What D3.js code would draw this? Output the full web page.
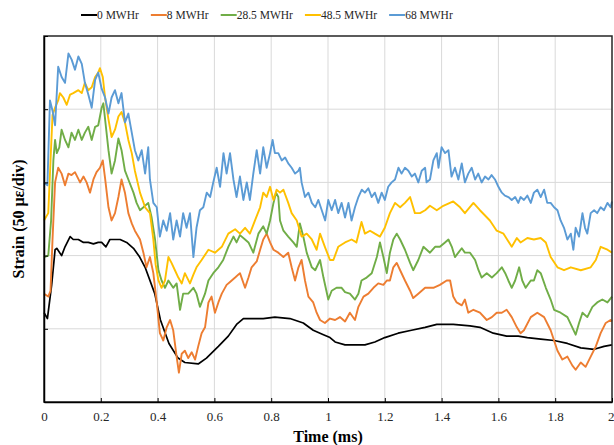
<!DOCTYPE html>
<html>
<head>
<meta charset="utf-8">
<script src="https://cdnjs.cloudflare.com/ajax/libs/d3/7.8.5/d3.min.js"></script>
<style>
  body { margin: 0; background: #fff; }
  svg { display: block; font-family: "Liberation Serif", "Times New Roman", serif; }
</style>
</head>
<body>
<svg id="chart" width="614" height="445"></svg>
<script>
// legend labels + colours, one per series
const seriesNames = ['0 MWHr', '8 MWHr', '28.5 MWHr', '48.5 MWHr', '68 MWHr'];
const seriesColors = ['#000000', '#ED7D31', '#70AD47', '#FFC000', '#5B9BD5'];

// axis ticks: time in ms, strain in microstrain (50 per division, no labels)
const timeTicks = [0, 0.2, 0.4, 0.6, 0.8, 1, 1.2, 1.4, 1.6, 1.8, 2];
const strainTicks = [0, 50, 100, 150, 200, 250];

// [time (ms), strain (µε)]
const mwhr0 = [[0,61],[0.012,57],[0.027,80],[0.039,104],[0.045,105],[0.062,100],[0.074,106],[0.092,113],[0.103,111],[0.121,111],[0.139,109],[0.156,109],[0.174,108],[0.191,109],[0.203,109],[0.218,106],[0.232,111],[0.25,111],[0.268,111],[0.291,109],[0.315,105],[0.337,99],[0.356,92],[0.39,74],[0.41,56],[0.44,40],[0.472,30],[0.496,27],[0.543,26],[0.572,30],[0.614,38],[0.649,45],[0.678,53],[0.702,57],[0.772,57],[0.813,58],[0.866,57],[0.913,54],[0.948,49],[0.984,46],[1.007,44],[1.025,41],[1.06,39],[1.13,39],[1.165,41],[1.2,44],[1.247,47],[1.294,49],[1.342,51],[1.383,53],[1.441,53],[1.5,52],[1.535,51],[1.582,47],[1.629,45],[1.67,45],[1.702,44],[1.749,43],[1.796,42],[1.843,40],[1.89,37],[1.937,36],[1.972,38],[2,39]];

const mwhr8 = [[0,74],[0.015,72],[0.023,76],[0.03,111],[0.039,150],[0.05,160],[0.062,156],[0.074,148],[0.086,156],[0.097,155],[0.109,157],[0.127,150],[0.139,154],[0.15,150],[0.162,143],[0.174,152],[0.185,157],[0.197,160],[0.207,165],[0.215,153],[0.227,133],[0.238,124],[0.25,129],[0.262,140],[0.273,152],[0.285,143],[0.297,129],[0.309,122],[0.32,117],[0.338,111],[0.35,102],[0.361,92],[0.373,99],[0.385,88],[0.397,68],[0.408,47],[0.42,42],[0.432,51],[0.444,56],[0.455,49],[0.467,31],[0.475,20],[0.485,33],[0.496,35],[0.508,30],[0.52,34],[0.532,29],[0.543,38],[0.555,47],[0.567,51],[0.579,68],[0.59,72],[0.602,61],[0.614,68],[0.626,74],[0.643,80],[0.655,82],[0.673,85],[0.69,88],[0.708,78],[0.72,85],[0.731,92],[0.749,96],[0.761,104],[0.772,111],[0.784,115],[0.796,109],[0.808,104],[0.825,102],[0.843,99],[0.86,102],[0.872,92],[0.884,83],[0.896,92],[0.907,97],[0.919,83],[0.931,72],[0.948,68],[0.96,61],[0.972,56],[0.989,54],[1.007,57],[1.025,56],[1.042,58],[1.06,55],[1.077,61],[1.095,56],[1.107,65],[1.125,72],[1.142,74],[1.16,78],[1.177,81],[1.195,80],[1.207,83],[1.218,83],[1.23,92],[1.242,95],[1.254,90],[1.271,83],[1.289,76],[1.3,71],[1.318,74],[1.342,78],[1.371,78],[1.394,80],[1.418,83],[1.43,83],[1.441,72],[1.453,68],[1.471,66],[1.482,70],[1.494,61],[1.512,63],[1.535,61],[1.559,56],[1.577,58],[1.594,61],[1.612,61],[1.629,63],[1.647,58],[1.665,51],[1.678,47],[1.69,49],[1.714,58],[1.737,61],[1.761,58],[1.784,49],[1.808,35],[1.825,29],[1.843,31],[1.86,25],[1.872,22],[1.89,27],[1.907,24],[1.925,31],[1.943,38],[1.96,47],[1.978,54],[1.995,56],[2,55]];

const mwhr28 = [[0,99],[0.015,100],[0.025,124],[0.033,165],[0.039,179],[0.045,170],[0.054,174],[0.062,186],[0.074,179],[0.086,174],[0.097,184],[0.109,179],[0.121,186],[0.133,179],[0.144,184],[0.156,188],[0.168,179],[0.18,188],[0.191,189],[0.203,201],[0.209,204],[0.218,188],[0.227,172],[0.238,156],[0.25,165],[0.262,180],[0.273,172],[0.285,158],[0.297,152],[0.315,143],[0.326,136],[0.338,131],[0.35,133],[0.367,136],[0.379,126],[0.391,111],[0.403,90],[0.414,83],[0.426,78],[0.438,83],[0.455,78],[0.467,81],[0.479,63],[0.49,74],[0.508,74],[0.526,78],[0.537,74],[0.549,65],[0.567,74],[0.579,83],[0.596,88],[0.614,92],[0.631,97],[0.649,106],[0.667,113],[0.678,109],[0.69,114],[0.708,111],[0.72,109],[0.737,102],[0.755,115],[0.772,120],[0.784,115],[0.796,124],[0.808,136],[0.817,143],[0.825,140],[0.831,124],[0.843,117],[0.86,113],[0.878,109],[0.89,106],[0.901,122],[0.913,113],[0.925,102],[0.943,92],[0.955,90],[0.972,97],[0.984,85],[1.001,70],[1.013,76],[1.03,78],[1.048,78],[1.06,75],[1.077,74],[1.095,70],[1.107,74],[1.118,83],[1.136,85],[1.154,88],[1.172,99],[1.183,109],[1.195,99],[1.207,88],[1.218,102],[1.23,111],[1.242,115],[1.254,111],[1.271,104],[1.289,95],[1.3,90],[1.318,97],[1.336,106],[1.359,102],[1.377,106],[1.394,106],[1.412,109],[1.424,111],[1.436,106],[1.447,99],[1.459,102],[1.471,105],[1.482,102],[1.5,102],[1.518,97],[1.53,90],[1.541,85],[1.559,88],[1.577,85],[1.594,88],[1.612,92],[1.624,88],[1.635,83],[1.647,78],[1.659,83],[1.673,92],[1.684,83],[1.696,78],[1.714,83],[1.725,83],[1.737,90],[1.749,88],[1.767,78],[1.784,70],[1.796,63],[1.819,61],[1.843,58],[1.86,51],[1.872,46],[1.884,54],[1.896,61],[1.913,58],[1.931,65],[1.948,68],[1.966,70],[1.984,68],[2,72]];

const mwhr48 = [[0,124],[0.015,129],[0.023,165],[0.03,196],[0.039,201],[0.05,206],[0.056,211],[0.068,208],[0.08,203],[0.092,210],[0.103,211],[0.121,213],[0.133,211],[0.144,218],[0.156,213],[0.168,215],[0.18,222],[0.191,225],[0.197,228],[0.207,222],[0.215,208],[0.227,193],[0.238,181],[0.25,186],[0.262,195],[0.273,198],[0.285,191],[0.297,179],[0.309,170],[0.32,158],[0.338,143],[0.356,133],[0.373,129],[0.385,111],[0.393,94],[0.403,83],[0.414,78],[0.426,83],[0.438,99],[0.449,95],[0.461,90],[0.473,85],[0.485,81],[0.496,88],[0.514,81],[0.526,87],[0.537,92],[0.555,97],[0.579,104],[0.602,102],[0.626,106],[0.649,115],[0.673,118],[0.69,115],[0.708,119],[0.725,115],[0.743,124],[0.761,133],[0.772,143],[0.784,140],[0.796,147],[0.808,138],[0.819,145],[0.831,143],[0.843,145],[0.86,136],[0.872,129],[0.89,124],[0.907,113],[0.925,115],[0.943,111],[0.96,104],[0.972,115],[0.989,106],[1.007,97],[1.019,97],[1.036,106],[1.06,109],[1.083,111],[1.1,109],[1.118,123],[1.13,115],[1.148,117],[1.165,115],[1.183,113],[1.2,119],[1.218,129],[1.236,136],[1.254,133],[1.271,136],[1.289,140],[1.306,129],[1.324,129],[1.342,131],[1.359,134],[1.383,131],[1.406,134],[1.441,137],[1.465,133],[1.482,129],[1.512,136],[1.535,131],[1.57,124],[1.594,117],[1.618,115],[1.647,106],[1.665,112],[1.678,109],[1.702,112],[1.725,111],[1.749,112],[1.767,109],[1.784,99],[1.808,92],[1.831,90],[1.855,92],[1.89,90],[1.925,92],[1.943,97],[1.96,106],[1.984,104],[2,102]];

const mwhr68 = [[0,150],[0.012,148],[0.021,206],[0.03,199],[0.039,189],[0.05,229],[0.062,222],[0.074,218],[0.086,238],[0.097,234],[0.109,227],[0.121,236],[0.133,231],[0.144,218],[0.156,210],[0.168,201],[0.18,220],[0.191,225],[0.203,214],[0.215,208],[0.227,197],[0.238,208],[0.25,213],[0.262,204],[0.273,211],[0.285,191],[0.297,197],[0.309,184],[0.32,172],[0.332,165],[0.344,172],[0.356,156],[0.367,174],[0.373,152],[0.385,136],[0.397,133],[0.408,113],[0.42,124],[0.432,117],[0.444,129],[0.455,111],[0.467,124],[0.479,113],[0.49,129],[0.502,119],[0.514,129],[0.526,99],[0.537,119],[0.549,131],[0.561,133],[0.573,143],[0.585,140],[0.596,150],[0.608,160],[0.62,147],[0.632,170],[0.643,156],[0.655,170],[0.667,152],[0.678,140],[0.69,154],[0.702,138],[0.714,150],[0.725,138],[0.737,156],[0.749,172],[0.761,156],[0.772,174],[0.784,160],[0.796,170],[0.805,179],[0.813,170],[0.825,170],[0.837,165],[0.849,167],[0.86,163],[0.872,160],[0.884,156],[0.896,158],[0.901,160],[0.907,150],[0.919,140],[0.931,143],[0.943,136],[0.955,133],[0.966,138],[0.978,131],[0.99,124],[1.001,138],[1.013,131],[1.025,138],[1.036,129],[1.048,136],[1.06,126],[1.072,136],[1.083,124],[1.095,133],[1.107,140],[1.119,145],[1.13,143],[1.142,146],[1.154,140],[1.165,143],[1.177,136],[1.189,143],[1.2,138],[1.212,147],[1.224,150],[1.236,152],[1.248,160],[1.259,156],[1.271,160],[1.283,158],[1.295,154],[1.306,156],[1.318,150],[1.33,158],[1.342,160],[1.347,150],[1.359,152],[1.371,165],[1.383,170],[1.389,160],[1.4,174],[1.412,170],[1.424,172],[1.435,154],[1.447,160],[1.459,152],[1.471,163],[1.482,150],[1.494,156],[1.506,160],[1.518,152],[1.529,156],[1.541,150],[1.553,154],[1.565,152],[1.576,155],[1.588,152],[1.6,147],[1.612,143],[1.623,141],[1.635,140],[1.647,138],[1.659,140],[1.67,136],[1.678,140],[1.69,138],[1.702,141],[1.714,136],[1.725,143],[1.737,145],[1.749,140],[1.761,145],[1.772,136],[1.784,136],[1.796,133],[1.808,131],[1.819,124],[1.831,119],[1.843,111],[1.855,115],[1.864,104],[1.872,119],[1.884,113],[1.896,129],[1.905,119],[1.913,115],[1.925,129],[1.937,131],[1.948,129],[1.96,133],[1.972,131],[1.984,136],[1.995,133],[2,137]];

const allSeries = [mwhr0, mwhr8, mwhr28, mwhr48, mwhr68];

const svg = d3.select('#chart');
const margin = {top: 36, right: 2, bottom: 43, left: 44};
const width = 614, height = 445;

const x = d3.scaleLinear().domain([0, 2]).range([margin.left, width - margin.right]);
const y = d3.scaleLinear().domain([0, 250]).range([height - margin.bottom, margin.top]);

svg.append('rect').attr('width', width).attr('height', height).attr('fill', '#fff');

// gridlines
svg.append('g')
  .selectAll('line')
  .data(timeTicks.slice(1, -1))
  .enter()
  .append('line')
  .attr('x1', d => x(d)).attr('x2', d => x(d))
  .attr('y1', y(250)).attr('y2', y(0))
  .attr('stroke', '#d9d9d9').attr('stroke-width', 1)
;
svg.append('g')
  .selectAll('line')
  .data(strainTicks.slice(1, -1))
  .enter()
  .append('line')
  .attr('x1', x(0)).attr('x2', x(2))
  .attr('y1', d => y(d)).attr('y2', d => y(d))
  .attr('stroke', '#d9d9d9').attr('stroke-width', 1)
;

// data lines
const line = d3.line().x(d => x(d[0])).y(d => y(d[1]));

svg.append('g')
  .selectAll('path')
  .data(allSeries)
  .enter()
  .append('path')
  .attr('d', line)
  .attr('fill', 'none')
  .attr('stroke', (d, i) => seriesColors[i])
  .attr('stroke-width', (d, i) => i === 0 ? 1.7 : 1.9)
  .attr('stroke-linejoin', 'round')
;

// plot frame
svg.append('rect')
  .attr('x', x(0)).attr('y', y(250))
  .attr('width', x(2) - x(0)).attr('height', y(0) - y(250))
  .attr('fill', 'none').attr('stroke', '#262626').attr('stroke-width', 1.5)
;

// axes
const xAxis = svg.append('g')
  .attr('transform', `translate(0,${y(0)})`)
  .call(d3.axisBottom(x).tickValues(timeTicks).tickFormat(d3.format('~g')).tickSizeInner(-4).tickSizeOuter(0).tickPadding(10))
;
xAxis.select('.domain').attr('stroke', '#000').attr('stroke-width', 1.5);
xAxis.selectAll('.tick line').attr('stroke', '#000');
xAxis.selectAll('text').attr('font-size', '13px').attr('font-family', '"Liberation Serif", serif').attr('fill', '#262626');
// last label sits against the right edge
xAxis.selectAll('.tick text').filter(d => d === 2).attr('text-anchor', 'end').attr('dx', 2);

const yAxis = svg.append('g')
  .attr('transform', `translate(${x(0)},0)`)
  .call(d3.axisLeft(y).tickValues(strainTicks).tickFormat('').tickSizeInner(-4).tickSizeOuter(0))
;
yAxis.select('.domain').attr('stroke', '#000').attr('stroke-width', 1.5);
yAxis.selectAll('.tick line').attr('stroke', '#000');

// axis titles
svg.append('text')
  .attr('x', (x(0) + x(2)) / 2).attr('y', 442)
  .attr('text-anchor', 'middle')
  .attr('font-weight', 'bold').attr('font-size', '16px')
  .attr('fill', '#000')
  .text('Time (ms)')
;
svg.append('text')
  .attr('transform', 'translate(24,219) rotate(-90)')
  .attr('text-anchor', 'middle')
  .attr('font-weight', 'bold').attr('font-size', '16px')
  .attr('fill', '#000')
  .text('Strain (50 με/div)')
;

// legend
const legend = svg.append('g').attr('transform', 'translate(81,15)');
let lx = 0;
seriesNames.forEach((name, i) => {
  const item = legend.append('g').attr('transform', `translate(${lx},0)`);
  item.append('line')
    .attr('x1', 0).attr('x2', 16).attr('y1', 0).attr('y2', 0)
    .attr('stroke', seriesColors[i]).attr('stroke-width', 2)
  ;
  const label = item.append('text')
    .attr('x', 16).attr('y', 4)
    .attr('font-size', '11.5px')
    .attr('fill', '#262626')
    .text(name)
  ;
  lx += 16 + label.node().getComputedTextLength() + 12;
});
</script>
</body>
</html>
